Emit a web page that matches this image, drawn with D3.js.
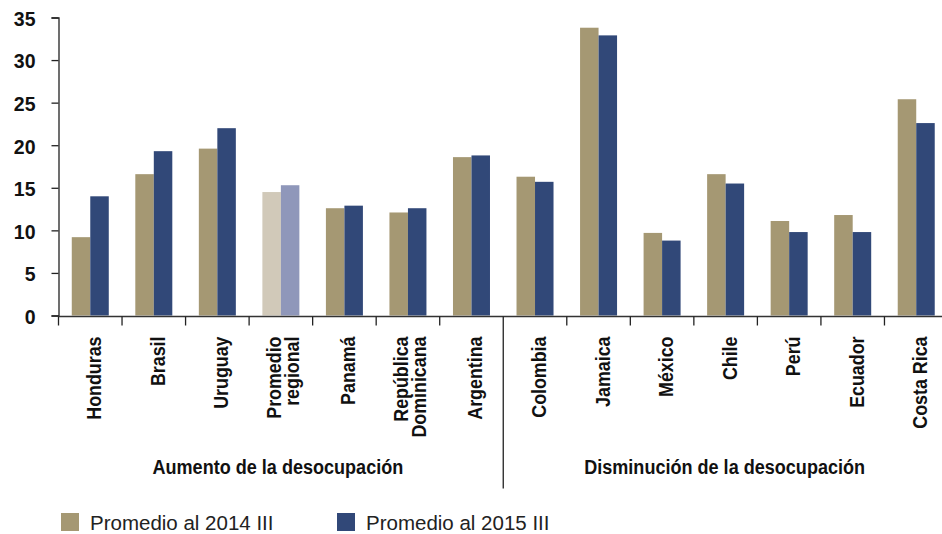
<!DOCTYPE html>
<html><head><meta charset="utf-8">
<script src="https://cdn.jsdelivr.net/npm/d3@7"></script>
<style>
body{margin:0;background:#fff;}
svg{display:block;}
.narrow{font-family:"Liberation Sans",Arial,sans-serif;font-weight:bold;}
</style></head>
<body>
<svg id="chart" width="942" height="534"></svg>
<script>
const categories = [["Honduras"],["Brasil"],["Uruguay"],["Promedio","regional"],["Panamá"],["República","Dominicana"],["Argentina"],["Colombia"],["Jamaica"],["México"],["Chile"],["Perú"],["Ecuador"],["Costa Rica"]];
const v2014 = [9.2,16.6,19.6,14.5,12.6,12.1,18.6,16.3,33.8,9.7,16.6,11.1,11.8,25.4];
const v2015 = [14.0,19.3,22.0,15.3,12.9,12.6,18.8,15.7,32.9,8.8,15.5,9.8,9.8,22.6];
const seriesNames = ["Promedio al 2014 III","Promedio al 2015 III"];
const groupNames = ["Aumento de la desocupación","Disminución de la desocupación"];
const groupSizes = [7,7];
const yTicks = [0,5,10,15,20,25,30,35];
const highlight = "Promedio";

const colors = ["#A59873","#314878"];
const lightColors = ["#D1C9B9","#8F97BA"];

const svg = d3.select("#chart");
const x0 = 58.5, x1 = 948, yTop = 17.5, yBot = 315.5;
const keys = categories.map((c,i)=>i);
const x = d3.scaleBand().domain(keys).range([x0,x1]).paddingInner(0).paddingOuter(0);
const y = d3.scaleLinear().domain([0,35]).range([yBot,yTop]);
const bw = 18.5;

// bars
const g = svg.append("g");
keys.forEach(i=>{
  const c = x(i)+x.bandwidth()/2;
  const isH = categories[i][0]===highlight;
  [v2014[i],v2015[i]].forEach((v,s)=>{
    g.append("rect")
      .attr("x", s===0 ? c-bw : c)
      .attr("width", bw)
      .attr("y", y(v))
      .attr("height", y(0)-y(v))
      .attr("fill", isH ? lightColors[s] : colors[s]);
  });
});

// y axis
const ya = svg.append("g").attr("transform",`translate(${x0},0)`)
  .call(d3.axisLeft(y).tickValues(yTicks).tickSize(7).tickPadding(16));
ya.select(".domain").attr("stroke","#222").attr("stroke-width",1.3);
ya.selectAll(".tick line").attr("stroke","#222").attr("stroke-width",1.3);
ya.selectAll("text").attr("font-family","Liberation Sans, Arial, sans-serif").attr("font-weight","bold").attr("font-size",19.5).attr("fill","#111").attr("dy","0.4em");

// x axis
const xa = svg.append("g").attr("transform",`translate(0,${yBot+1})`);
xa.append("line").attr("x1",x0).attr("x2",x1).attr("stroke","#333").attr("stroke-width",1.3);
keys.forEach(i=>{
  const bx = x(i);
  if (i===groupSizes[0]) {
    xa.append("line").attr("x1",bx).attr("x2",bx).attr("y1",0).attr("y2",172).attr("stroke","#222").attr("stroke-width",1.3);
  } else {
    xa.append("line").attr("x1",bx).attr("x2",bx).attr("y1",0).attr("y2",9).attr("stroke","#222").attr("stroke-width",1.3);
  }
});

// category labels
keys.forEach(i=>{
  const c = x(i)+x.bandwidth()/2;
  const lines = categories[i];
  const n = lines.length;
  lines.forEach((t,k)=>{
    const off = n===1 ? 11 : (k-(n-1)/2)*18 + 9;
    svg.append("text").attr("class","narrow")
      .attr("transform",`translate(${c+off},${yBot+21}) rotate(-90) scale(0.85,1)`)
      .attr("text-anchor","end")
      .attr("font-size",21)
      .attr("fill","#111")
      .text(t);
  });
});

// group labels
let start = 0;
groupNames.forEach((gname,gi)=>{
  const a = x(start), b = x(start+groupSizes[gi]-1)+x.bandwidth();
  svg.append("text").attr("class","narrow")
    .attr("transform",`translate(${(a+b)/2 + (gi===0?-3:-1)},474) scale(0.86,1)`)
    .attr("text-anchor","middle").attr("font-size",21).attr("fill","#111")
    .text(gname);
  start += groupSizes[gi];
});

// legend
const legX = [61,337];
seriesNames.forEach((s,i)=>{
  svg.append("rect").attr("x",legX[i]).attr("y",513).attr("width",18).attr("height",18).attr("fill",colors[i]);
  svg.append("text").attr("x",legX[i]+29).attr("y",530)
    .attr("font-family","Liberation Sans, Arial, sans-serif").attr("font-size",20.5).attr("fill","#222")
    .text(s);
});
</script>
</body></html>
